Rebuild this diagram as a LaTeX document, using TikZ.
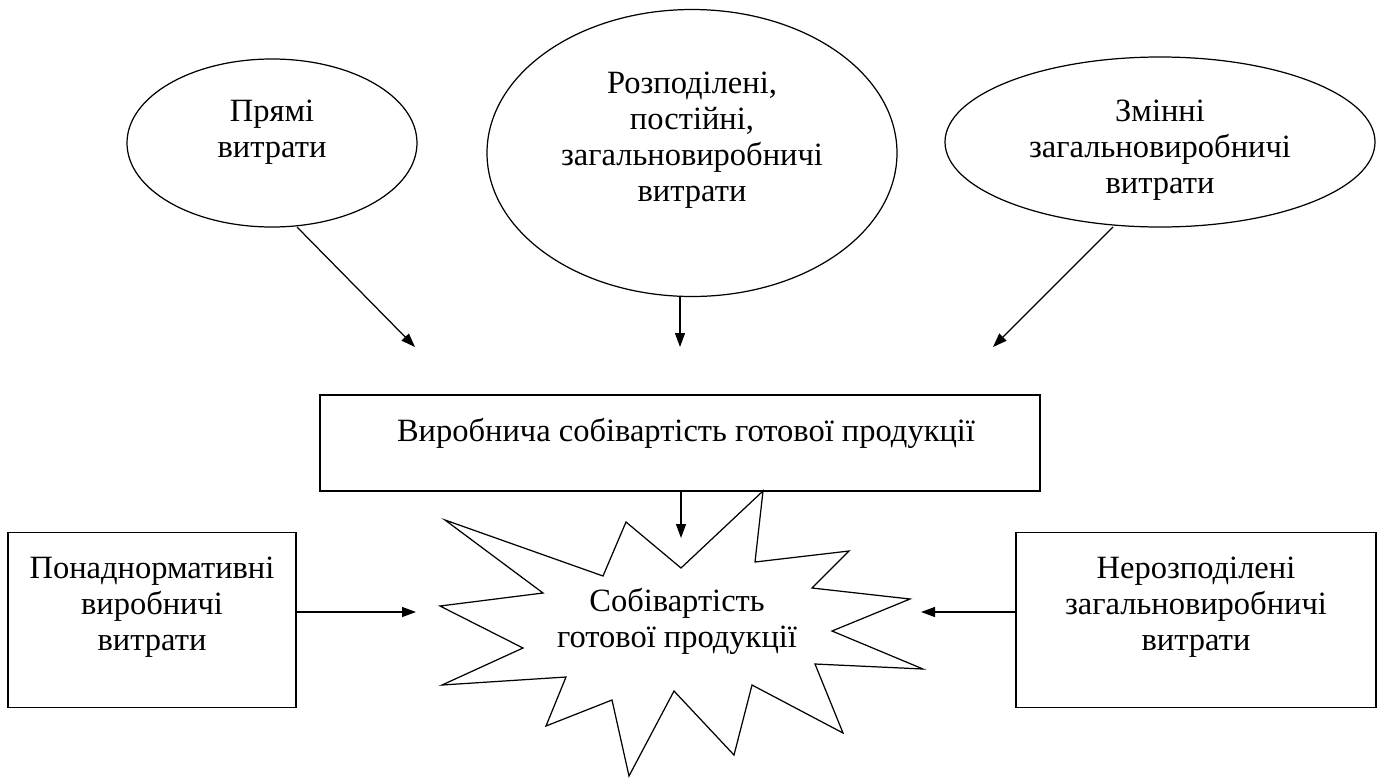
\documentclass[tikz,border=0pt]{standalone}
\usepackage{fontspec}
\setmainfont{Liberation Serif}
\usetikzlibrary{shapes.geometric,arrows.meta,positioning}

\begin{document}
\begin{tikzpicture}[x=0.02cm,y=-0.02cm,
    txt/.style={font=\fontsize{18.5}{20.5}\selectfont, align=center, inner sep=0pt},
    costellipse/.style={draw, ellipse, line width=0.7pt, inner sep=0pt},
    costbox/.style={draw, rectangle, line width=0.9pt, inner sep=0pt},
    link/.style={line width=0.7pt, -{Triangle[length=0.28cm,width=0.2cm]}}]
    % constants
    \def\px{0.02cm}
    \useasboundingbox (0,0) rectangle (1385,778);
    % top ellipses
    \node [costellipse, minimum width=290*\px, minimum height=168*\px] (pryami) at (272,143) {};
    \node [costellipse, minimum width=410*\px, minimum height=287*\px] (rozpod) at (692,153) {};
    \node [costellipse, minimum width=430*\px, minimum height=170*\px] (zminni) at (1160,142) {};
    \node [txt] (pryamiText) at (272,132) {Прямі\\витрати};
    \node [txt] (rozpodText) at (692,140) {Розподілені,\\постійні,\\загальновиробничі\\витрати};
    \node [txt] (zminniText) at (1160,150) {Змінні\\загальновиробничі\\витрати};
    % arrow ends above the box
    \coordinate (pryamiTip) at (415,347);
    \coordinate (rozpodTip) at (680,347);
    \coordinate (zminniTip) at (993,347);
    % production cost box
    \node [costbox, minimum width=720*\px, minimum height=96*\px] (vyrob) at (680,443) {};
    \node [txt] (vyrobText) at (686,433) {Виробнича собівартість готової продукції};
    % side boxes
    \node [costbox, minimum width=288*\px, minimum height=175*\px] (ponad) at (152,620) {};
    \node [txt] (ponadText) at (152,607) {Понаднормативні\\виробничі\\витрати};
    \node [costbox, minimum width=360*\px, minimum height=175*\px] (nerozpod) at (1196,620) {};
    \node [txt] (nerozpodText) at (1196,607) {Нерозподілені\\загальновиробничі\\витрати};
    % starburst
    \draw [line width=0.7pt, fill=white]
        (763,491) -- (755,562) -- (849,551) -- (812,588) -- (910,599) -- (832,631)
        -- (923,669) -- (815,664) -- (843,733) -- (752,685) -- (734,755) -- (674,691)
        -- (629,776) -- (612,700) -- (546,726) -- (566,677) -- (442,685) -- (523,648)
        -- (440,606) -- (543,593) -- (445,520) -- (603,576) -- (626,522) -- (681,568)
        -- cycle;
    \node [txt] (sobivText) at (677,621) {Собівартість\\готової продукції};
    \coordinate (burstTop) at (681,538);
    \coordinate (burstLeft) at (416,612);
    \coordinate (burstRight) at (921,612);
    % arrows
    \draw [link] (297,227) -- (pryamiTip);
    \draw [link] (rozpod.south -| rozpodTip) -- (rozpodTip);
    \draw [link] (1113,227) -- (zminniTip);
    \draw [link] (vyrob.south -| burstTop) -- (burstTop);
    \draw [link] (ponad.east |- burstLeft) -- (burstLeft);
    \draw [link] (nerozpod.west |- burstRight) -- (burstRight);
\end{tikzpicture}
\end{document}
